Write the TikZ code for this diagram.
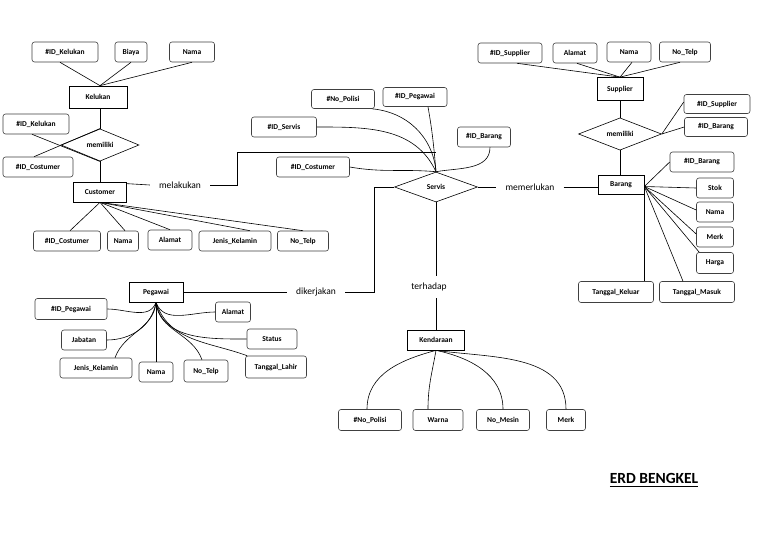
\documentclass[tikz,border=0pt]{standalone}
\usepackage{fontspec}
\setmainfont{Carlito}
\newcommand{\thickul}[1]{\setbox0\hbox{#1}\rlap{\rule[-3.5pt]{\wd0}{1.3pt}}\box0}
\usetikzlibrary{shapes.geometric}
\tikzset{
  attr/.style={draw=black!75, line width=0.6pt, rounded corners=2.5pt, minimum height=20pt, inner sep=1pt, font=\bfseries\fontsize{7.5}{9}\selectfont},
  ent/.style={draw=black, line width=0.7pt, minimum height=20pt, inner sep=1pt, font=\bfseries\fontsize{7.5}{9}\selectfont},
  rel/.style={diamond, draw=black, line width=0.6pt, inner sep=0pt, font=\bfseries\fontsize{7.5}{9}\selectfont},
  lbl/.style={inner xsep=9pt, inner ysep=6pt, font=\fontsize{9.5}{11}\selectfont},
  conn/.style={draw=black, line width=0.6pt},
}
\begin{document}
\begin{tikzpicture}[x=1pt,y=-1pt]
\useasboundingbox[fill=white] (0,0) rectangle (768,544);

% ---------- Kelukan ----------
\node[attr, minimum width=66pt] (k1) at (65,52) {\#ID\_Kelukan};
\node[attr, minimum width=32pt] (k2) at (131,52) {Biaya};
\node[attr, minimum width=45pt] (k3) at (192,52) {Nama};
\node[ent, minimum width=58pt, minimum height=22pt] (kel) at (98,97) {Kelukan};
\draw[conn] ([xshift=-5pt]k1.south) -- ([xshift=2pt]kel.north);
\draw[conn] (k2.south) -- ([xshift=2pt]kel.north);
\draw[conn] (k3.south) -- ([xshift=2pt]kel.north);

\node[rel, minimum width=78pt, minimum height=30pt] (m1) at (100,145) {memiliki};
\node[attr, minimum width=66pt] (lk) at (36,124) {\#ID\_Kelukan};
\node[attr, minimum width=70pt] (lc) at (38,167) {\#ID\_Costumer};
\draw[conn] (m1.north) -- (m1.north |- kel.south);
\draw[conn] ([xshift=-4pt]lk.south) -- (m1.south);
\draw[conn] ([xshift=-4pt]lc.north) -- (m1.north);

% ---------- Customer ----------
\node[ent, minimum width=53pt] (cus) at (100,192) {Customer};
\draw[conn] (m1.south) -- (cus.north);
\node[attr, minimum width=67pt] (c1) at (67,241) {\#ID\_Costumer};
\node[attr, minimum width=31pt] (c2) at (123,241) {Nama};
\node[attr, minimum width=44pt] (c3) at (170,240) {Alamat};
\node[attr, minimum width=72pt] (c4) at (235,241) {Jenis\_Kelamin};
\node[attr, minimum width=51pt] (c5) at (303,241) {No\_Telp};
\draw[conn] (cus.south) -- ([xshift=3pt]c1.north);
\draw[conn] (cus.south) -- ([xshift=2pt]c2.north);
\draw[conn] (cus.south) -- (c3.north);
\draw[conn] (cus.south) -- ([xshift=15pt]c4.north);
\draw[conn] (cus.south) -- (c5.north);

\node[lbl] (mel) at (180,185) {melakukan};
\coordinate (cA) at (237,152);
\draw[conn] ([yshift=-2pt]cus.north east) -- (mel.west);
\draw[conn] (mel.east) -- (mel.east -| cA) -- (cA) -- (436,152);

% ---------- Servis ----------
\node[rel, minimum width=83pt, minimum height=30pt] (srv) at (436,187) {Servis};
\node[attr, minimum width=63pt, minimum height=19pt] (s1) at (343,99) {\#No\_Polisi};
\node[attr, minimum width=64pt, minimum height=19pt] (s2) at (415,97) {\#ID\_Pegawai};
\node[attr, minimum width=65pt] (s3) at (284,127) {\#ID\_Servis};
\node[attr, minimum width=53pt] (s4) at (484,137) {\#ID\_Barang};
\node[attr, minimum width=73pt] (s5) at (313,167) {\#ID\_Costumer};
\draw[conn] ([xshift=-3pt]s1.south east) to[out=-5,in=95] (srv.north);
\draw[conn] ([xshift=13pt]s2.south) to[out=-80,in=95] (srv.north);
\draw[conn] (s3.east) to[out=0,in=115] (srv.north);
\draw[conn] (s5.east) to[out=-10,in=175] (srv.north);
\draw[conn] ([xshift=6pt]s4.south) to[out=-90,in=10] (srv.north);

\node[lbl] (mem) at (530,187) {memerlukan};
\node[ent, minimum width=46pt, minimum height=19pt] (bar) at (621,184.5) {Barang};
\draw[conn] (srv.east) -- (mem.west);
\draw[conn] (mem.east) -- (mem.east -| bar.west);

% ---------- Supplier ----------
\node[attr, minimum width=64pt] (u1) at (510,53) {\#ID\_Supplier};
\node[attr, minimum width=44pt] (u2) at (575,53) {Alamat};
\node[attr, minimum width=44pt] (u3) at (629,52) {Nama};
\node[attr, minimum width=51pt] (u4) at (685,52) {No\_Telp};
\node[ent, minimum width=46pt, minimum height=23pt] (sup) at (620,89) {Supplier};
\draw[conn] ([xshift=7pt]u1.south) -- (sup.north);
\draw[conn] ([xshift=2pt]u2.south) -- (sup.north);
\draw[conn] ([xshift=3pt]u3.south) -- (sup.north);
\draw[conn] ([xshift=-5pt]u4.south) -- (sup.north);

\node[rel, minimum width=83pt, minimum height=28pt] (m2) at (620,134) {memiliki};
\node[attr, minimum width=66pt, minimum height=19pt] (w1) at (717,104) {\#ID\_Supplier};
\node[attr, minimum width=63pt, minimum height=19pt] (w2) at (716,127) {\#ID\_Barang};
\draw[conn] (sup.south) -- (m2.north);
\draw[conn] (m2.south) -- (m2.south |- bar.north);
\draw[conn] (m2.east) -- ([yshift=2pt]w1.west);
\draw[conn] (m2.east) -- (w2.west);

% ---------- Barang attributes ----------
\node[attr, minimum width=64pt] (b1) at (702,162) {\#ID\_Barang};
\node[attr, minimum width=37pt] (b2) at (715,188) {Stok};
\node[attr, minimum width=37pt] (b3) at (715,212) {Nama};
\node[attr, minimum width=37pt] (b4) at (715,237) {Merk};
\node[attr, minimum width=37pt, minimum height=21pt] (b5) at (715,263) {Harga};
\node[attr, minimum width=75pt, minimum height=21pt] (b6) at (616,292) {Tanggal\_Keluar};
\node[attr, minimum width=75pt, minimum height=21pt] (b7) at (697,292) {Tanggal\_Masuk};
\draw[conn] ([yshift=-2pt]bar.east) -- (b1.west);
\draw[conn] ([yshift=-2pt]bar.east) -- (b2.west);
\draw[conn] ([yshift=-2pt]bar.east) -- ([yshift=2pt]b3.west);
\draw[conn] ([yshift=-2pt]bar.east) -- ([yshift=3pt]b4.west);
\draw[conn] ([yshift=-2pt]bar.east) -- ([xshift=3pt]b5.north west);
\draw[conn] ([yshift=-2pt]bar.east) -- ([xshift=-14pt]b7.north);
\draw[conn] (bar.south east) -- (bar.south east |- b6.north);

% ---------- Pegawai ----------
\node[ent, minimum width=54pt] (peg) at (156,292) {Pegawai};
\node[lbl] (dik) at (316,292) {dikerjakan};
\coordinate (cB) at (374,187);
\draw[conn] (peg.east) -- (dik.west);
\draw[conn] (dik.east) -| (cB) -- (srv.west);

\node[attr, minimum width=72pt, minimum height=21pt] (p1) at (71,309) {\#ID\_Pegawai};
\node[attr, minimum width=35pt] (p2) at (233,312) {Alamat};
\node[attr, minimum width=45pt] (p3) at (84,340) {Jabatan};
\node[attr, minimum width=50pt] (p4) at (272,339) {Status};
\node[attr, minimum width=72pt] (p5) at (96,368) {Jenis\_Kelamin};
\node[attr, minimum width=34pt] (p6) at (156,372) {Nama};
\node[attr, minimum width=44pt, minimum height=22pt] (p7) at (206,371) {No\_Telp};
\node[attr, minimum width=61pt, minimum height=22pt] (p8) at (276,367) {Tanggal\_Lahir};
\draw[conn] (p1.east) to[out=0,in=-110] (peg.south);
\draw[conn] (p2.west) to[out=180,in=-70] (peg.south);
\draw[conn] (p3.east) to[out=0,in=-100] (peg.south);
\draw[conn] (p4.west) to[out=180,in=-80] (peg.south);
\draw[conn] ([xshift=19pt]p5.north) to[out=70,in=-95] (peg.south);
\draw[conn] (peg.south) -- (p6.north);
\draw[conn] ([xshift=-4pt]p7.north) to[out=110,in=-85] (peg.south);
\draw[conn] ([xshift=2pt]p8.north west) to[out=160,in=-72] (peg.south);

% ---------- Kendaraan ----------
\node[lbl, inner xsep=2pt, inner ysep=7pt] (ter) at (429,287) {terhadap};
\node[ent, minimum width=57pt] (ken) at (436,340) {Kendaraan};
\draw[conn] (srv.south) -- (srv.south |- ter.north);
\draw[conn] (srv.south |- ter.south) -- (ken.north);

\node[attr, minimum width=63pt, minimum height=21pt] (v1) at (370,420) {\#No\_Polisi};
\node[attr, minimum width=50pt, minimum height=21pt] (v2) at (438,420) {Warna};
\node[attr, minimum width=53pt, minimum height=21pt] (v3) at (503,420) {No\_Mesin};
\node[attr, minimum width=39pt, minimum height=21pt] (v4) at (566,420) {Merk};
\draw[conn] (ken.south) to[out=195,in=90] ([xshift=-3pt]v1.north);
\draw[conn] (ken.south) to[out=-100,in=90] ([xshift=-10pt]v2.north);
\draw[conn] (ken.south) to[out=-12,in=90] (v3.north);
\draw[conn] (ken.south) to[out=-8,in=90] (v4.north);

% ---------- Title ----------
\node[font=\bfseries\fontsize{15.5}{18}\selectfont] (title) at (654,480) {\thickul{ERD BENGKEL}};
\end{tikzpicture}
\end{document}
